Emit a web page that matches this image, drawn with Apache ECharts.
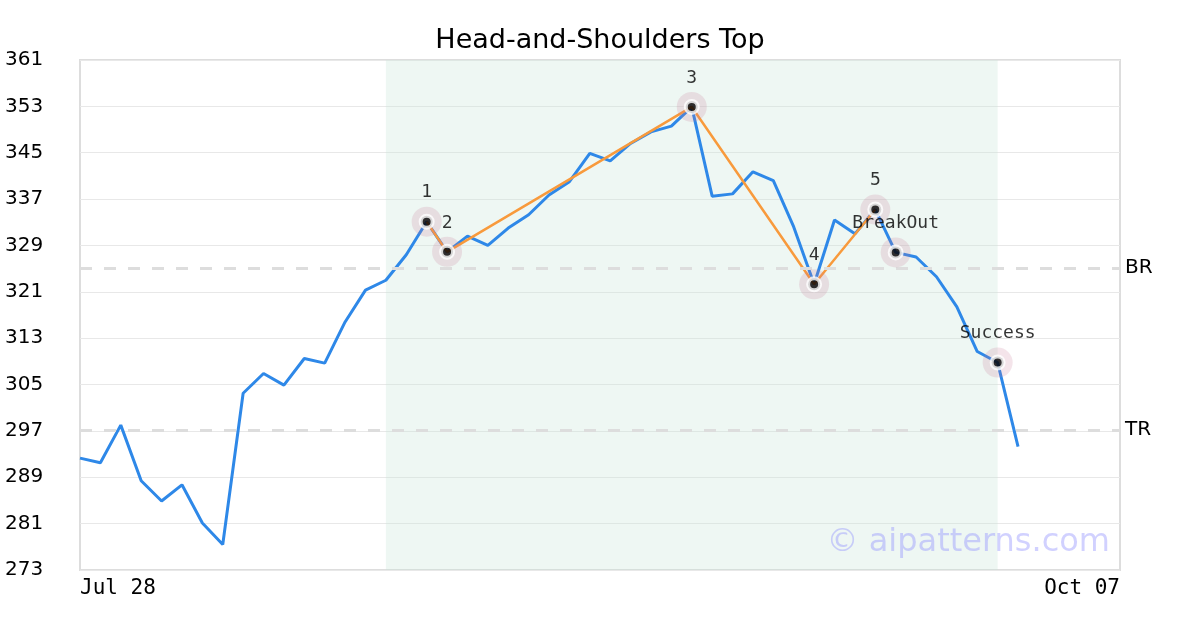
<!DOCTYPE html>
<html>
<head>
<meta charset="utf-8">
<script src="https://cdn.jsdelivr.net/npm/echarts@6/dist/echarts.min.js"></script>
<style>html,body{margin:0;padding:0;background:#fff;}#c{width:1200px;height:630px;}</style>
</head>
<body>
<div id="c"></div>
<script>
const dates = ['Jul 28','Jul 29','Jul 30','Jul 31','Aug 01','Aug 04','Aug 05','Aug 06','Aug 07','Aug 08',
  'Aug 11','Aug 12','Aug 13','Aug 14','Aug 15','Aug 18','Aug 19','Aug 20','Aug 21','Aug 22',
  'Aug 25','Aug 26','Aug 27','Aug 28','Aug 29','Sep 01','Sep 02','Sep 03','Sep 04','Sep 05',
  'Sep 08','Sep 09','Sep 10','Sep 11','Sep 12','Sep 15','Sep 16','Sep 17','Sep 18','Sep 19',
  'Sep 22','Sep 23','Sep 24','Sep 25','Sep 26','Sep 29','Sep 30','Oct 01','Oct 02','Oct 03',
  'Oct 06','Oct 07'];
const closes = [292.3, 291.5, 298.0, 288.4, 284.9, 287.7, 281.1, 277.4, 303.5, 306.9,
  304.9, 309.5, 308.7, 315.8, 321.3, 323.0, 327.4, 333.1, 327.9, 330.6,
  329.0, 332.0, 334.3, 337.7, 340.0, 344.9, 343.6, 346.6, 348.6, 349.6,
  352.9, 337.5, 337.9, 341.7, 340.2, 332.2, 322.3, 333.4, 331.0, 335.2,
  327.8, 327.0, 323.6, 318.4, 310.7, 308.8, 294.3];
const patternIdx = [17, 18, 30, 36, 39];
const markerIdx = [17, 18, 30, 36, 39, 40, 45];
const markerLabels = ['1', '2', '3', '4', '5', 'BreakOut', 'Success'];
const shadeStart = 15, shadeEnd = 45;
const breakoutLevel = 325.1, targetLevel = 297.2;
const yTicks = {min: 273, max: 361, step: 8};

const patternData = patternIdx.map(i => [i, closes[i]]);
const markerData = markerIdx.map((i, k) => ({value: [i, closes[i]], name: markerLabels[k]}));

const chart = echarts.init(document.getElementById('c'), null, {renderer: 'canvas'});
chart.setOption({
  animation: false,
  backgroundColor: '#fff',
  title: {
    text: 'Head-and-Shoulders Top', left: 'center', top: 22,
    textStyle: {fontFamily: 'DejaVu Sans', fontSize: 27, fontWeight: 'normal', color: '#000'}
  },
  grid: {left: 80, right: 80, top: 60, bottom: 60, show: true, borderColor: '#ddd', borderWidth: 2, backgroundColor: 'transparent'},
  xAxis: {
    type: 'category', data: dates, boundaryGap: false,
    axisLine: {show: false}, axisTick: {show: false}, splitLine: {show: false},
    axisLabel: {
      interval: (i) => i === 0 || i === dates.length - 1,
      showMinLabel: true, showMaxLabel: true,
      alignMinLabel: 'left', alignMaxLabel: 'right',
      fontFamily: 'DejaVu Sans Mono', fontSize: 21, color: '#000', margin: 8
    }
  },
  yAxis: {
    type: 'value', min: yTicks.min, max: yTicks.max, interval: yTicks.step,
    axisLine: {show: false}, axisTick: {show: false},
    splitLine: {lineStyle: {color: '#e8e8e8', width: 1}},
    axisLabel: {fontFamily: 'DejaVu Sans', fontSize: 20, color: '#000', align: 'left', margin: 75, padding: [4, 0, 0, 0]}
  },
  graphic: [{
    type: 'text', right: 90, top: 527, z: 100,
    style: {text: '© aipatterns.com', font: '32px "DejaVu Sans"', fill: 'rgba(140,140,255,0.4)'}
  }],
  series: [
    {
      type: 'line', data: [], silent: true,
      markArea: {
        silent: true,
        itemStyle: {color: 'rgba(198,228,215,0.3)'},
        data: [[{xAxis: dates[shadeStart]}, {xAxis: dates[shadeEnd]}]]
      }
    },
    {
      type: 'line', data: closes, showSymbol: false, symbol: 'none',
      lineStyle: {color: '#2e88e8', width: 3}, z: 3,
      markLine: {
        silent: true, symbol: 'none',
        lineStyle: {color: '#dddddd', width: 3, type: [12, 12]},
        label: {show: true, position: 'end', formatter: '{b}', fontFamily: 'DejaVu Sans', fontSize: 20, color: '#000', distance: 5, padding: [4, 0, 0, 0]},
        data: [{yAxis: breakoutLevel, name: 'BR'}, {yAxis: targetLevel, name: 'TR'}]
      }
    },
    {
      type: 'line', data: patternData, showSymbol: false, symbol: 'none',
      lineStyle: {color: '#f89a3c', width: 2.5}, z: 4
    },
    {
      type: 'scatter', data: markerData, symbolSize: 30, z: 5,
      itemStyle: {color: 'rgba(200,120,150,0.25)'},
      label: {show: true, position: 'top', distance: 5, formatter: '{b}', fontFamily: 'DejaVu Sans Mono', fontSize: 18, color: '#000'}
    },
    {
      type: 'scatter', data: markerData, symbolSize: 12, z: 6,
      itemStyle: {color: '#000', borderColor: '#fff', borderWidth: 4}
    }
  ]
});
</script>
</body>
</html>
